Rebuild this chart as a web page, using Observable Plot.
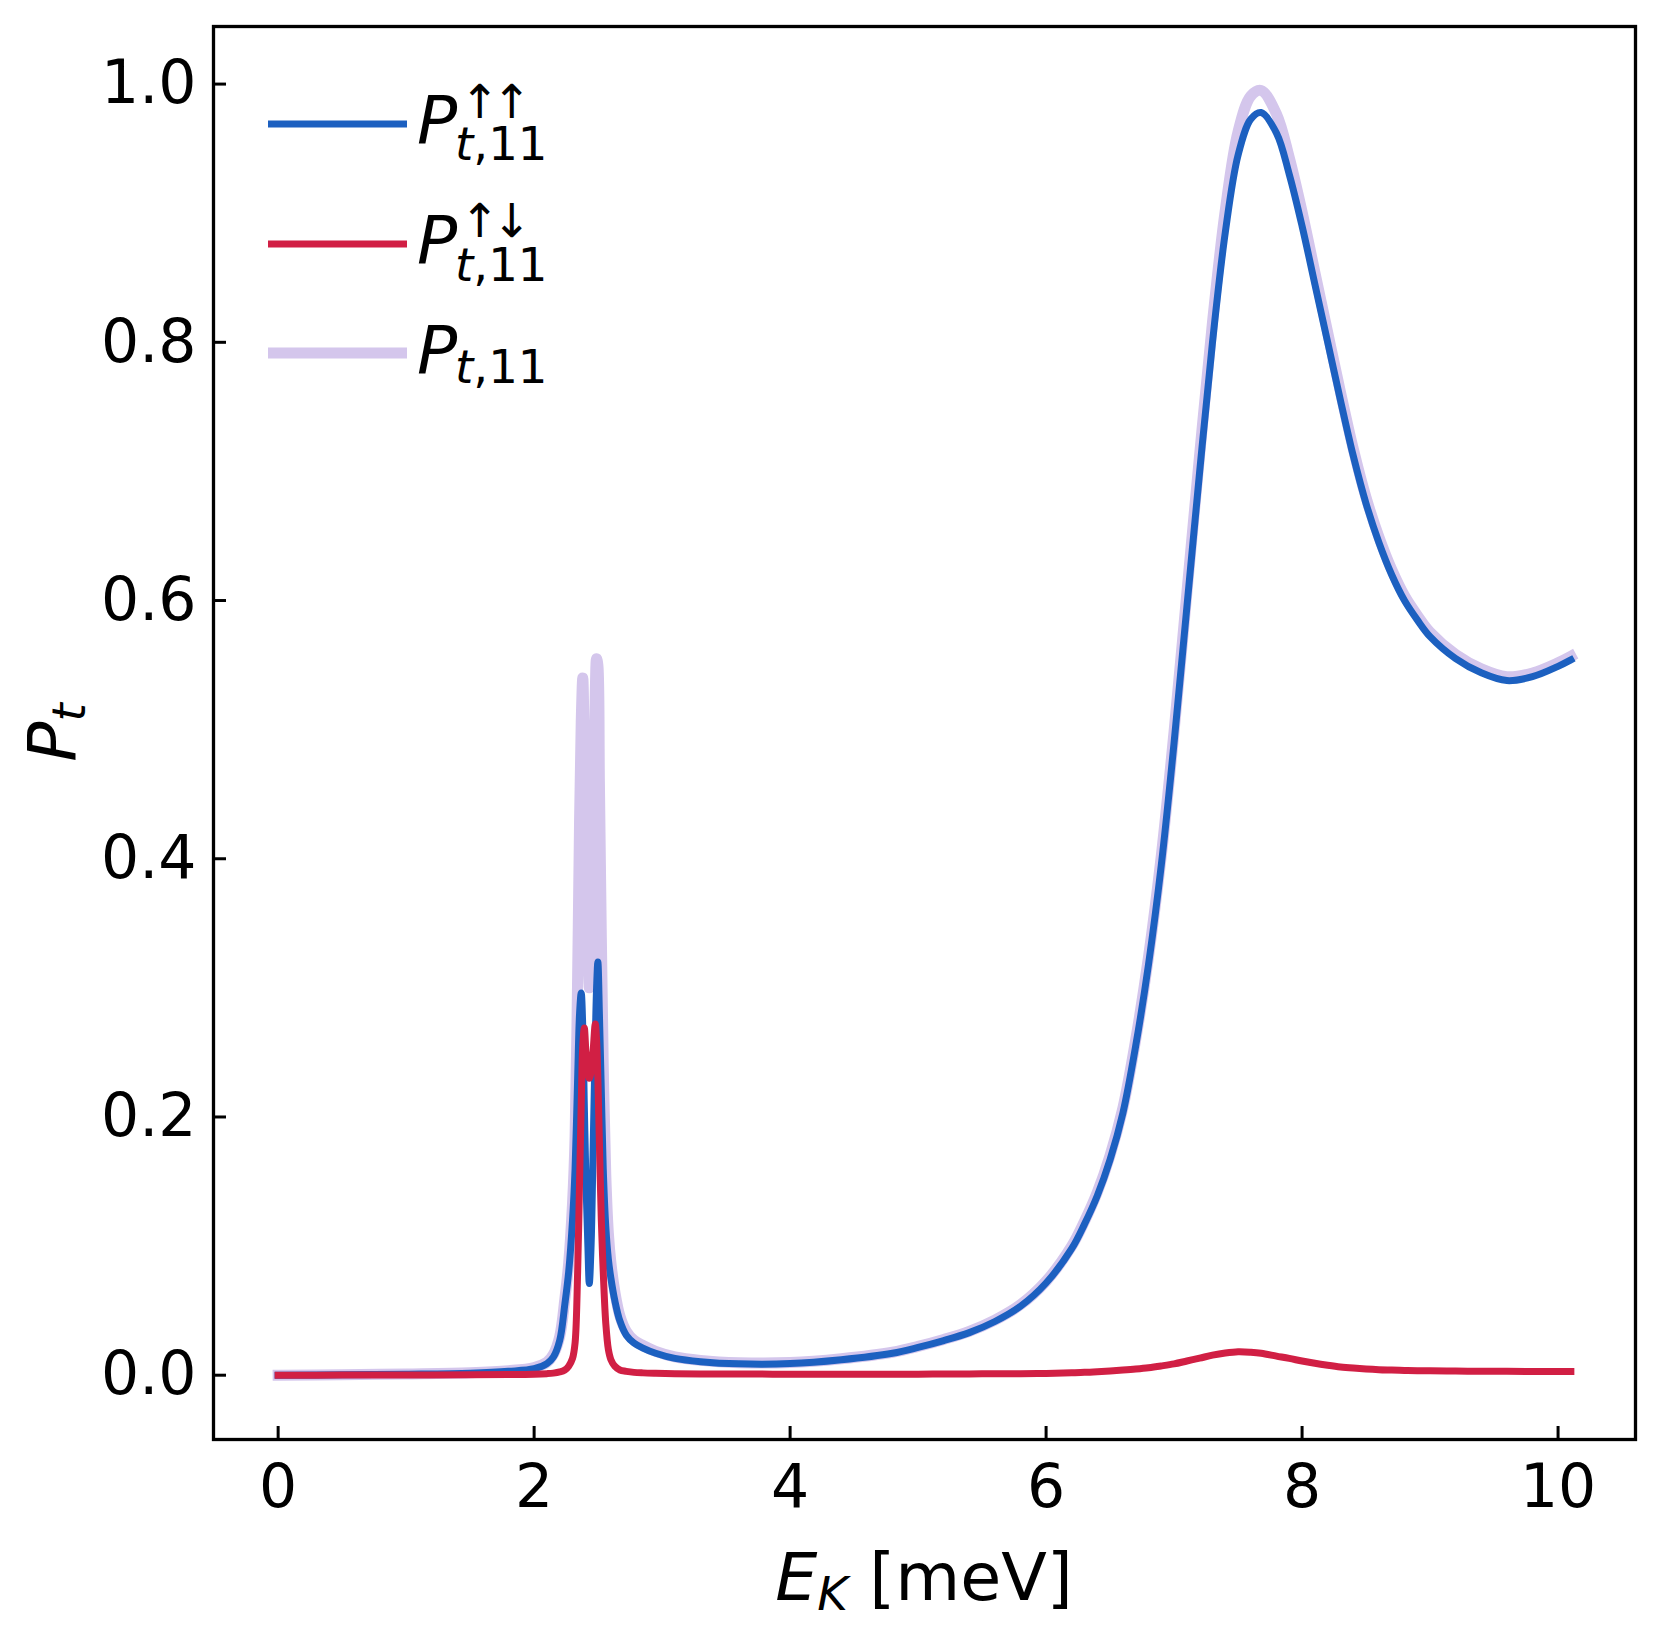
<!DOCTYPE html>
<html><head><meta charset="utf-8">
<script src="https://cdn.jsdelivr.net/npm/d3@7"></script>
<script src="https://cdn.jsdelivr.net/npm/@observablehq/plot@0.6"></script>
<style>body{margin:0;background:#fff} svg text{font-family:"DejaVu Sans"}</style>
</head><body><div id="chart"></div>
<script>
const energy = [0,0.5,1.0,1.5,1.8,2.0,2.1,2.15,2.2,2.24,2.27,2.30,2.32,2.34,2.355,2.368,2.38,2.392,2.405,2.42,2.431,2.445,2.46,2.478,2.488,2.498,2.51,2.525,2.54,2.56,2.58,2.60,2.63,2.67,2.72,2.78,2.85,2.95,3.1,3.3,3.6,4.0,4.4,4.8,5.0,5.2,5.4,5.6,5.8,6.0,6.2,6.3,6.4,6.5,6.6,6.7,6.8,6.9,7.0,7.1,7.2,7.3,7.4,7.5,7.6,7.68,7.8,7.9,8.0,8.1,8.2,8.3,8.4,8.5,8.6,8.7,8.8,8.9,9.0,9.2,9.4,9.6,9.8,10.0,10.1];
const pUpUp = [0,0.0003,0.0008,0.0016,0.003,0.005,0.009,0.014,0.027,0.055,0.08,0.12,0.16,0.23,0.28,0.296,0.27,0.21,0.15,0.10,0.071,0.10,0.17,0.26,0.30,0.32,0.28,0.22,0.16,0.115,0.09,0.075,0.058,0.042,0.031,0.025,0.021,0.017,0.013,0.0105,0.0088,0.009,0.012,0.017,0.0215,0.0268,0.033,0.0416,0.0534,0.0714,0.098,0.117,0.139,0.167,0.203,0.255,0.318,0.395,0.49,0.595,0.70,0.80,0.885,0.945,0.973,0.978,0.962,0.93,0.89,0.845,0.80,0.755,0.712,0.675,0.645,0.62,0.60,0.585,0.572,0.555,0.544,0.538,0.541,0.549,0.554];
const pUpDown = [0,0.0001,0.0002,0.0003,0.0005,0.0008,0.0012,0.0016,0.0025,0.004,0.007,0.013,0.025,0.08,0.15,0.21,0.255,0.269,0.25,0.235,0.23,0.235,0.25,0.272,0.26,0.23,0.18,0.12,0.08,0.04,0.02,0.012,0.007,0.004,0.003,0.0022,0.0018,0.0015,0.0012,0.001,0.0009,0.0008,0.0008,0.0008,0.0008,0.0009,0.001,0.0011,0.0012,0.0014,0.0019,0.0022,0.0027,0.0033,0.004,0.0048,0.0058,0.0072,0.0088,0.011,0.0132,0.0155,0.0172,0.0182,0.0178,0.017,0.0148,0.013,0.011,0.0092,0.0077,0.0064,0.0055,0.0048,0.0043,0.004,0.0037,0.0035,0.0034,0.0032,0.0031,0.003,0.0029,0.0028,0.0028];
const pTotal = [0,0.0004,0.001,0.0019,0.0035,0.006,0.010,0.016,0.03,0.059,0.087,0.133,0.185,0.31,0.43,0.506,0.54,0.48,0.40,0.335,0.30,0.335,0.42,0.53,0.555,0.55,0.46,0.34,0.24,0.155,0.11,0.087,0.065,0.046,0.034,0.027,0.023,0.0185,0.0142,0.0115,0.0097,0.0098,0.0128,0.0178,0.0223,0.0277,0.034,0.0427,0.0546,0.0728,0.0999,0.1192,0.1417,0.1703,0.207,0.2598,0.3238,0.4022,0.4988,0.606,0.7132,0.8155,0.9022,0.9632,0.9908,0.995,0.9768,0.943,0.901,0.8542,0.8077,0.7614,0.7175,0.6798,0.6493,0.624,0.6037,0.5885,0.5754,0.5582,0.5471,0.541,0.5439,0.5518,0.5568];
const xTicks = [0,2,4,6,8,10];
const yTicks = [0,0.2,0.4,0.6,0.8,1.0];
const seriesSup = ["↑↑","↑↓",""];
const seriesColors = ["#1c60c0","#d11f44","#d4c6ec"];

const rows = energy.map((e,i)=>({e, upup:pUpUp[i], updown:pUpDown[i], total:pTotal[i]}));

const W=1662,H=1639,ML=213,MR=27,MT=26,MB=200;
const FS=66.7, SFS=46.7, TFS=60;
const curve = "catmull-rom";
const plot = Plot.plot({
  width:W, height:H, marginLeft:ML, marginRight:MR, marginTop:MT, marginBottom:MB,
  style:{fontFamily:"DejaVu Sans", fontSize:TFS+"px", background:"white", color:"black", overflow:"visible"},
  x:{domain:[-0.505,10.605]},
  y:{domain:[-0.0498,1.0446]},
  marks:[
    Plot.line(rows,{x:"e",y:"total",stroke:seriesColors[2],strokeWidth:11,curve,strokeLinecap:"square"}),
    Plot.line(rows,{x:"e",y:"upup",stroke:seriesColors[0],strokeWidth:7,curve,strokeLinecap:"square"}),
    Plot.line(rows,{x:"e",y:"updown",stroke:seriesColors[1],strokeWidth:7,curve,strokeLinecap:"square"}),
    Plot.ruleX(xTicks,{x:d=>d, insetTop:H-MT-MB-13, stroke:"black", strokeWidth:3}),
    Plot.ruleY(yTicks,{y:d=>d, insetRight:W-ML-MR-13, stroke:"black", strokeWidth:3}),
    Plot.axisX({ticks:xTicks, tickSize:0, tickPadding:25, tickFormat:d=>String(d), fontSize:TFS, label:null}),
    Plot.axisY({ticks:yTicks, tickSize:0, tickPadding:17, tickFormat:d=>d.toFixed(1), fontSize:TFS, label:null}),
    Plot.frame({stroke:"black", strokeWidth:3.3})
  ]
});
document.getElementById("chart").appendChild(plot);

const svg = d3.select(plot);
const g = svg.append("g").attr("fill","black").attr("font-family","DejaVu Sans").attr("text-anchor","start");

// legend
const legY = [124,244,353];
const pBase = [143,263,373];
const subBase = [160,281,383];
const supBase = [118,237,0];
seriesColors.forEach((c,i)=>{
  g.append("line").attr("x1",268).attr("x2",407).attr("y1",legY[i]).attr("y2",legY[i])
    .attr("stroke",c).attr("stroke-width", i===2?11:7);
  g.append("text").attr("x",417).attr("y",pBase[i]).attr("font-style","italic").attr("font-size",FS).text("P");
  const sub = g.append("text").attr("x",455).attr("y",subBase[i]).attr("font-size",SFS);
  sub.append("tspan").attr("font-style","italic").text("t");
  sub.append("tspan").text(",11");
  if (seriesSup[i]) g.append("text").attr("x",460).attr("y",supBase[i]).attr("font-size",SFS).attr("letter-spacing",-7).text(seriesSup[i]);
});

// x label
const xl = g.append("text").attr("x",(ML+W-MR)/2).attr("y",1600).attr("text-anchor","middle").attr("font-size",FS);
xl.append("tspan").attr("font-style","italic").text("E");
xl.append("tspan").attr("font-style","italic").attr("font-size",SFS).attr("dy",10).text("K");
xl.append("tspan").attr("dy",-10).text(" [meV]");

// y label
const yl = g.append("text").attr("transform",`translate(75,${(MT+H-MB)/2}) rotate(-90)`).attr("text-anchor","middle").attr("font-size",FS);
yl.append("tspan").attr("font-style","italic").text("P");
yl.append("tspan").attr("font-style","italic").attr("font-size",SFS).attr("dy",10).text("t");
</script>
</body></html>
